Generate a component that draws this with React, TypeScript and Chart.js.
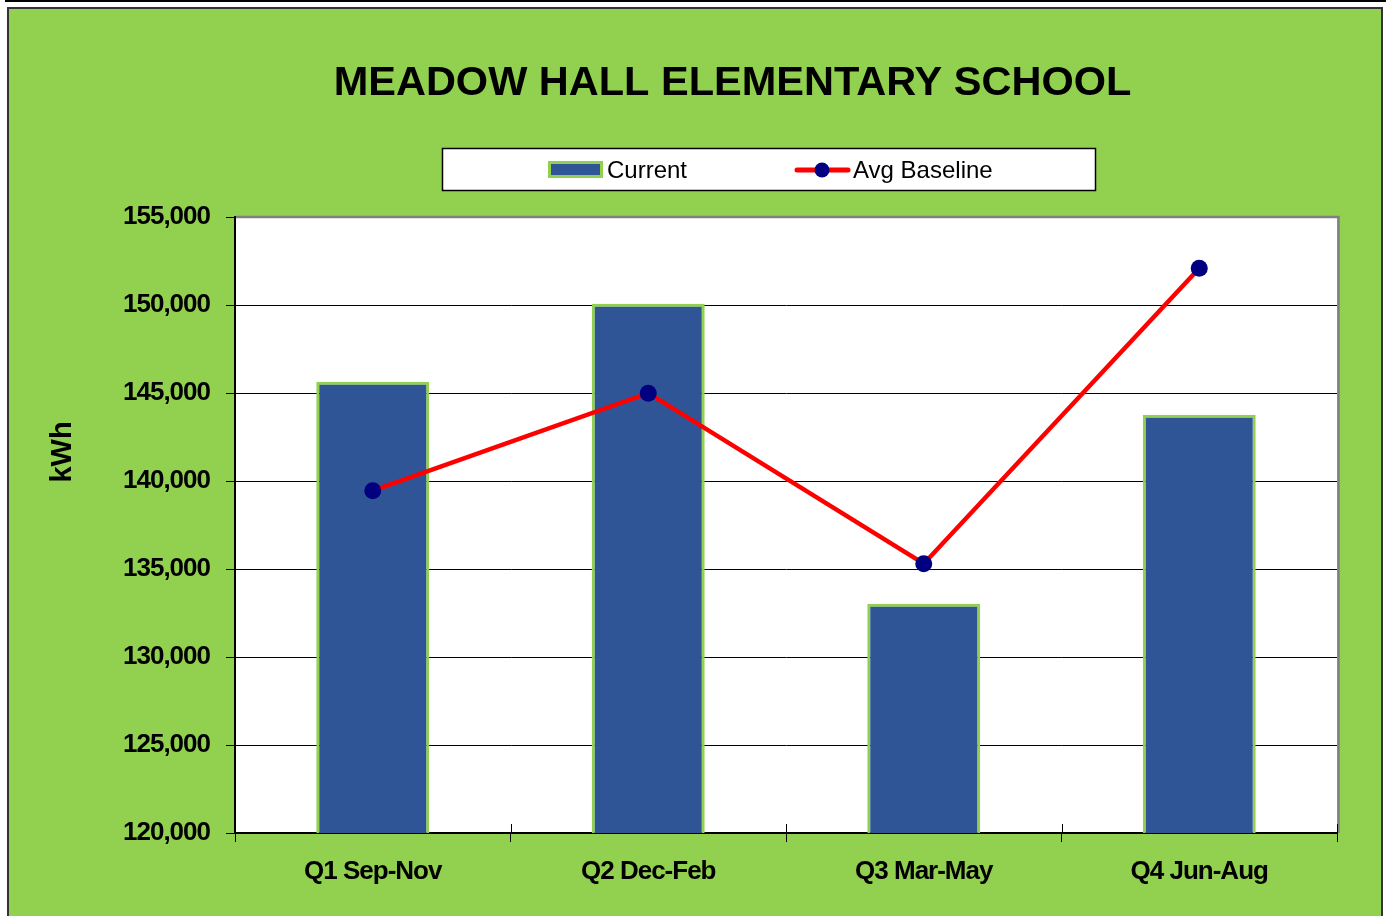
import React, { useEffect, useRef } from 'react';
import { Chart, registerables } from 'chart.js';

Chart.register(...registerables);

// ---- Data ----
const categories = ['Q1 Sep-Nov', 'Q2 Dec-Feb', 'Q3 Mar-May', 'Q4 Jun-Aug'];
const currentKwh = [145640, 150070, 133030, 143770];
const avgBaselineKwh = [139450, 144990, 135300, 152090];
const seriesNames = ['Current', 'Avg Baseline'];
const yMin = 120000;
const yMax = 155000;
const yStep = 5000;
const chartTitle = 'MEADOW HALL ELEMENTARY SCHOOL';
const yAxisTitle = 'kWh';

// ---- Styles ----
const GREEN = '#92D050';
const BLUE = '#2F5597';
const RED = '#FF0000';
const NAVY = '#000080';
const SANS = "'Liberation Sans', Arial, sans-serif";

const framePlugin = {
  id: 'frame',
  afterLayout(chart: any) {
    const t = chart.titleBlock;
    if (t) {
      t.left = 128;
      t.right = chart.chartArea.right;
    }
    ['x', 'y'].forEach((id) => {
      const s = chart.scales[id];
      if (s && !s.__narrow) {
        const orig = s.drawLabels;
        s.drawLabels = function (area: any) {
          const c = this.ctx;
          c.save();
          c.letterSpacing = '-1px';
          orig.call(this, area);
          c.restore();
        };
        s.__narrow = true;
      }
    });
  },
  beforeDraw(chart: any) {
    const { ctx, chartArea: ca, width, height } = chart;
    ctx.save();
    ctx.fillStyle = '#ffffff';
    ctx.fillRect(0, 0, width, height);
    ctx.fillStyle = '#000000';
    ctx.fillRect(5, 0, width - 5, 2);
    ctx.fillStyle = '#333333';
    ctx.fillRect(7, 7, 1376, height);
    ctx.fillStyle = GREEN;
    ctx.fillRect(9, 9, 1372, height);
    ctx.fillStyle = '#ffffff';
    ctx.fillRect(ca.left, ca.top, ca.right - ca.left, ca.bottom - ca.top);
    ctx.restore();
  },
  beforeDatasetsDraw(chart: any) {
    const { ctx, chartArea: ca } = chart;
    ctx.save();
    ctx.strokeStyle = '#808080';
    ctx.lineWidth = 2.5;
    ctx.beginPath();
    ctx.moveTo(ca.left + 1, ca.top);
    ctx.lineTo(ca.right + 1.5, ca.top);
    ctx.lineTo(ca.right + 1.5, ca.bottom);
    ctx.stroke();
    ctx.restore();
  },
  afterDatasetsDraw(chart: any) {
    const { ctx, chartArea: ca } = chart;
    const xs = chart.scales.x;
    ctx.save();
    ctx.strokeStyle = '#000000';
    ctx.lineWidth = 1;
    for (let i = 0; i <= categories.length; i++) {
      const px = i === 0 ? ca.left : i === categories.length ? ca.right
        : (xs.getPixelForValue(i - 1) + xs.getPixelForValue(i)) / 2;
      const x = Math.round(px) + 0.5;
      ctx.beginPath();
      ctx.moveTo(x, ca.bottom - 9);
      ctx.lineTo(x, ca.bottom);
      ctx.stroke();
    }
    ctx.translate(63, 452);
    ctx.rotate(-Math.PI / 2);
    ctx.font = 'bold 29px ' + SANS;
    ctx.fillStyle = '#000000';
    ctx.textAlign = 'center';
    ctx.textBaseline = 'middle';
    ctx.fillText(yAxisTitle, 0, 0);
    ctx.restore();
  },
};

const legendPlugin = {
  id: 'boxLegend',
  afterDraw(chart: any) {
    const { ctx } = chart;
    ctx.save();
    const bx = 442, by = 148, bw = 653, bh = 42;
    ctx.fillStyle = '#ffffff';
    ctx.fillRect(bx, by, bw, bh);
    ctx.strokeStyle = '#000000';
    ctx.lineWidth = 1.5;
    ctx.strokeRect(bx + 0.5, by + 0.5, bw, bh);
    const cy = 170;
    ctx.fillStyle = GREEN;
    ctx.fillRect(548, 161, 55, 17);
    ctx.fillStyle = BLUE;
    ctx.fillRect(551, 164, 49, 11);
    ctx.font = '24px ' + SANS;
    ctx.textBaseline = 'middle';
    ctx.textAlign = 'left';
    ctx.fillStyle = '#000000';
    ctx.fillText(seriesNames[0], 607, cy + 1);
    ctx.strokeStyle = RED;
    ctx.lineWidth = 5;
    ctx.lineCap = 'round';
    ctx.beginPath();
    ctx.moveTo(797, cy);
    ctx.lineTo(848, cy);
    ctx.stroke();
    ctx.fillStyle = NAVY;
    ctx.beginPath();
    ctx.arc(822, cy, 7.5, 0, Math.PI * 2);
    ctx.fill();
    ctx.fillStyle = '#000000';
    ctx.fillText(seriesNames[1], 853, cy + 1);
    ctx.restore();
  },
};

export default function App() {
  const canvasRef = useRef<HTMLCanvasElement | null>(null);

  useEffect(() => {
    if (!canvasRef.current) return;
    const chart = new Chart(canvasRef.current, {
      type: 'bar',
      data: {
        labels: categories,
        datasets: [
          {
            type: 'bar',
            label: seriesNames[0],
            data: currentKwh,
            backgroundColor: BLUE,
            borderColor: GREEN,
            borderWidth: 3,
            barPercentage: 0.41,
            categoryPercentage: 1,
            order: 2,
          },
          {
            type: 'line',
            label: seriesNames[1],
            data: avgBaselineKwh,
            borderColor: RED,
            borderWidth: 4.5,
            pointRadius: 8.5,
            pointBackgroundColor: NAVY,
            pointBorderColor: NAVY,
            pointBorderWidth: 0,
            tension: 0,
            order: 1,
          },
        ],
      } as any,
      options: {
        responsive: false,
        animation: false,
        devicePixelRatio: 1,
        layout: { padding: { top: 22, left: 20, right: 49, bottom: 0 } },
        plugins: {
          legend: { display: false },
          tooltip: { enabled: false },
          title: {
            display: true,
            text: chartTitle,
            color: '#000000',
            font: { family: SANS, size: 41.5, weight: 'bold' },
            padding: { top: 37, bottom: 108.2 },
          },
        },
        scales: {
          x: {
            grid: {
              offset: true,
              drawOnChartArea: false,
              drawTicks: true,
              tickLength: 9,
              color: '#000000',
              lineWidth: 1,
            },
            border: { color: '#000000', width: 2 },
            ticks: {
              color: '#000000',
              font: { family: SANS, size: 26, weight: 'bold' },
              padding: 14,
              maxRotation: 0,
            },
            afterFit: (s: any) => { s.height = 83; },
          },
          y: {
            min: yMin,
            max: yMax,
            ticks: {
              stepSize: yStep,
              color: '#000000',
              font: { family: SANS, size: 26, weight: 'bold' },
              padding: 16,
              callback: (v: any) => Number(v).toLocaleString('en-US'),
            },
            grid: { color: '#000000', lineWidth: 1, tickLength: 9 },
            border: { color: '#000000', width: 2 },
            afterFit: (s: any) => { s.width = 215; },
          },
        },
      } as any,
      plugins: [framePlugin, legendPlugin],
    });
    return () => chart.destroy();
  }, []);

  return (
    <div style={{ position: 'absolute', left: 0, top: 0, width: 1386, height: 916, overflow: 'hidden' }}>
      <canvas ref={canvasRef} width={1386} height={916} style={{ display: 'block' }} />
    </div>
  );
}
